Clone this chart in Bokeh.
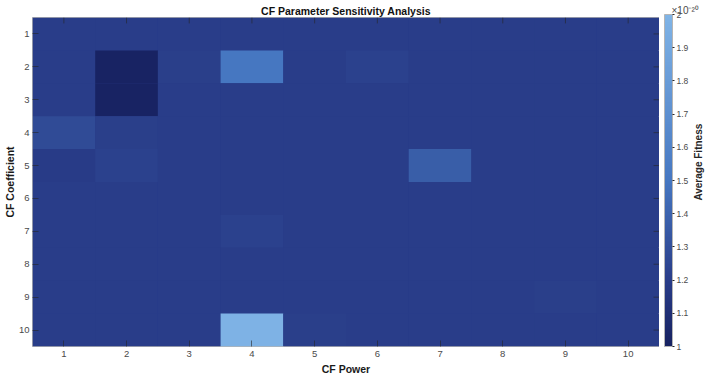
import numpy as np
from bokeh.plotting import figure
from bokeh.layouts import row
from bokeh.models import (ColumnDataSource, LinearColorMapper, ColorBar, FixedTicker,
                          Label, Range1d)
from bokeh.embed import file_html
from bokeh.resources import INLINE

# ---- data ----
cf_power = [1, 2, 3, 4, 5, 6, 7, 8, 9, 10]
cf_coefficient = [1, 2, 3, 4, 5, 6, 7, 8, 9, 10]
# rows = CF Coefficient 1..10, columns = CF Power 1..10 (units of 1e-20)
fitness_row_1 = [1.20, 1.20, 1.20, 1.20, 1.20, 1.20, 1.20, 1.20, 1.20, 1.20]
fitness_row_2 = [1.20, 1.01, 1.21, 1.50, 1.20, 1.22, 1.20, 1.20, 1.20, 1.20]
fitness_row_3 = [1.20, 1.01, 1.20, 1.20, 1.20, 1.20, 1.20, 1.20, 1.20, 1.20]
fitness_row_4 = [1.27, 1.21, 1.20, 1.20, 1.20, 1.20, 1.20, 1.20, 1.20, 1.20]
fitness_row_5 = [1.19, 1.22, 1.20, 1.20, 1.20, 1.20, 1.37, 1.20, 1.20, 1.20]
fitness_row_6 = [1.20, 1.20, 1.20, 1.20, 1.20, 1.20, 1.20, 1.20, 1.20, 1.20]
fitness_row_7 = [1.20, 1.20, 1.20, 1.22, 1.20, 1.20, 1.20, 1.20, 1.20, 1.20]
fitness_row_8 = [1.20, 1.20, 1.20, 1.20, 1.20, 1.20, 1.20, 1.20, 1.20, 1.20]
fitness_row_9 = [1.20, 1.20, 1.20, 1.20, 1.20, 1.20, 1.20, 1.20, 1.21, 1.20]
fitness_row_10 = [1.20, 1.20, 1.20, 1.98, 1.21, 1.20, 1.20, 1.20, 1.20, 1.20]
fitness_rows = [fitness_row_1, fitness_row_2, fitness_row_3, fitness_row_4, fitness_row_5,
                fitness_row_6, fitness_row_7, fitness_row_8, fitness_row_9, fitness_row_10]
colorbar_ticks = [1.0, 1.1, 1.2, 1.3, 1.4, 1.5, 1.6, 1.7, 1.8, 1.9, 2.0]
colorbar_labels = ["1", "1.1", "1.2", "1.3", "1.4", "1.5", "1.6", "1.7", "1.8", "1.9", "2"]

# ---- colour map (style) ----
stop_pos = [0.0, 0.2, 0.5, 1.0]
stop_col = ["#172261", "#293d89", "#4677c1", "#80b4e6"]


def hex2rgb(h):
    return [int(h[i:i + 2], 16) for i in (1, 3, 5)]


rgb = np.array([hex2rgb(c) for c in stop_col], dtype=float)
tt = np.linspace(0, 1, 256)
palette = ["#%02x%02x%02x" % tuple(int(round(np.interp(t, stop_pos, rgb[:, k]))) for k in range(3))
           for t in tt]

xs, ys, vs = [], [], []
for r, coef in enumerate(cf_coefficient):
    for c, pw in enumerate(cf_power):
        xs.append(pw)
        ys.append(coef)
        vs.append(fitness_rows[r][c])
src = ColumnDataSource(dict(x=xs, y=ys, v=vs))

mapper = LinearColorMapper(palette=palette, low=1.0, high=2.0)

FONT = "'Liberation Sans', Arial, sans-serif"
TICK_COL = "#262626"
TOP, BOTTOM = 16, 29

# ---------------- main heatmap ----------------
p = figure(width=659, height=377, output_backend="svg", toolbar_location=None,
           x_range=Range1d(0.5, 10.5), y_range=Range1d(10.5, 0.5),
           min_border_left=31, min_border_right=0, min_border_top=TOP, min_border_bottom=BOTTOM,
           x_axis_label="CF Power", y_axis_label="CF Coefficient")
p.title.text = "CF Parameter Sensitivity Analysis"
p.title.align = "center"
p.title.text_font = FONT
p.title.text_font_size = "10.5px"
p.title.text_font_style = "bold"
p.title.text_color = "#111111"
p.title.standoff = 1
p.title.offset = 0

p.background_fill_color = "#293d89"
p.border_fill_color = "white"
p.outline_line_color = "#b5b5b5"
p.grid.visible = False

p.rect(x="x", y="y", width=1, height=1, source=src,
       fill_color={"field": "v", "transform": mapper}, line_color=None)

# inner ticks on the top and right edges (box style)
tick_len_x = 0.18   # in y data units
tick_len_y = 0.095  # in x data units
p.segment(x0=cf_power, y0=[0.5] * len(cf_power), x1=cf_power,
          y1=[0.5 + tick_len_x] * len(cf_power), line_color=TICK_COL, line_alpha=0.6, line_width=1)
p.segment(x0=[10.5] * len(cf_coefficient), y0=cf_coefficient,
          x1=[10.5 - tick_len_y] * len(cf_coefficient), y1=cf_coefficient,
          line_color=TICK_COL, line_alpha=0.6, line_width=1)

for ax in (p.xaxis[0], p.yaxis[0]):
    ax.major_tick_in = 6
    ax.major_tick_out = 0
    ax.minor_tick_line_color = None
    ax.major_tick_line_color = TICK_COL
    ax.major_tick_line_alpha = 0.6
    ax.axis_line_color = None
    ax.major_label_text_font = FONT
    ax.major_label_text_font_size = "9.5px"
    ax.major_label_text_color = "#4a4a4a"
    ax.axis_label_text_font = FONT
    ax.axis_label_text_font_size = "10.5px"
    ax.axis_label_text_font_style = "bold"
    ax.axis_label_text_color = "#1a1a1a"
p.xaxis[0].ticker = FixedTicker(ticks=cf_power)
p.yaxis[0].ticker = FixedTicker(ticks=cf_coefficient)
p.xaxis[0].major_label_standoff = 4
p.xaxis[0].axis_label_standoff = 3
p.yaxis[0].major_label_standoff = 3
p.yaxis[0].axis_label_standoff = 0

# ---------------- colour bar panel ----------------
cbf = figure(width=47, height=377, output_backend="svg", toolbar_location=None,
             x_range=Range1d(0, 47), y_range=Range1d(0, 332),
             x_axis_type=None, y_axis_type=None,
             min_border_left=0, min_border_right=0,
             min_border_top=TOP, min_border_bottom=BOTTOM)
cbf.outline_line_color = None
cbf.grid.visible = False
cbf.background_fill_color = "white"
cbf.border_fill_color = "white"
cbf.title.text = "×10⁻²⁰"
cbf.title.align = "left"
cbf.title.offset = 12
cbf.title.standoff = 4
cbf.title.text_font = FONT
cbf.title.text_font_size = "10px"
cbf.title.text_font_style = "normal"
cbf.title.text_color = "#4a4a4a"

cb = ColorBar(color_mapper=mapper, width=8, height=332, padding=0, margin=0,
              location=(5, 0),
              ticker=FixedTicker(ticks=colorbar_ticks),
              major_label_overrides={t: l for t, l in zip(colorbar_ticks, colorbar_labels)},
              major_tick_in=0, major_tick_out=2, major_tick_line_color=TICK_COL,
              minor_tick_line_color=None, bar_line_color="#b5b5b5",
              label_standoff=2, major_label_text_font=FONT,
              major_label_text_font_size="8.5px", major_label_text_color="#4a4a4a",
              border_line_color=None, background_fill_color=None)
cbf.add_layout(cb, "center")

cbf.add_layout(Label(x=39, y=186, text="Average Fitness", angle=np.pi / 2,
                     text_align="center", text_baseline="middle", text_font=FONT,
                     text_font_size="10px", text_font_style="bold", text_color="#262626"))

layout = row(p, cbf, spacing=0)
open("out.html", "w").write(file_html(layout, INLINE))
